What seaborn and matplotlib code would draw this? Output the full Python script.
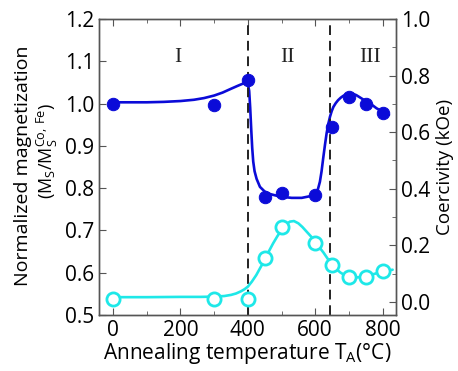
import pandas as pd
import numpy as np
import matplotlib
matplotlib.use("Agg")
import matplotlib.pyplot as plt
import seaborn as sns
from matplotlib.ticker import MultipleLocator

# measured points
temp_pts = [0, 300, 400, 450, 500, 600, 650, 700, 750, 800]
ms_pts = [1.000, 0.996, 1.056, 0.780, 0.788, 0.784, 0.945, 1.016, 0.999, 0.978]
hc_pts = [0.010, 0.010, 0.010, 0.156, 0.264, 0.209, 0.132, 0.088, 0.088, 0.108]

# guide-to-the-eye curves
ms_curve_t = [0, 50, 100, 150, 200, 240, 270, 300, 325, 350, 370, 385, 395, 400, 404, 407,
              410, 413, 416, 420, 426, 436, 450, 466, 496, 530, 560, 585, 600, 608, 614,
              619, 624, 629, 634, 639, 644, 649, 654, 661, 668, 676, 683, 693, 703, 712,
              722, 732, 742, 752, 762, 772, 782, 791, 800, 810, 819]
ms_curve_v = [1.003, 1.003, 1.003, 1.004, 1.006, 1.009, 1.013, 1.019, 1.026, 1.035, 1.042,
              1.047, 1.050, 1.047, 1.030, 0.990, 0.940, 0.895, 0.863, 0.840, 0.822, 0.803,
              0.792, 0.786, 0.780, 0.777, 0.777, 0.781, 0.788, 0.797, 0.815, 0.840, 0.872,
              0.902, 0.930, 0.952, 0.969, 0.982, 0.992, 1.001, 1.008, 1.014, 1.018, 1.022,
              1.024, 1.023, 1.020, 1.015, 1.010, 1.005, 1.000, 0.995, 0.989, 0.985, 0.981,
              0.977, 0.973]
hc_curve_t = [0, 100, 200, 260, 300, 330, 350, 365, 380, 390, 400, 412, 425, 437, 450, 462,
              475, 488, 500, 512, 525, 537, 550, 562, 575, 588, 600, 612, 625, 637, 650,
              662, 675, 687, 700, 712, 725, 737, 750, 762, 775, 787, 800, 815, 830]
hc_curve_v = [0.017, 0.017, 0.018, 0.018, 0.019, 0.021, 0.025, 0.030, 0.038, 0.045, 0.054,
              0.072, 0.095, 0.121, 0.148, 0.178, 0.207, 0.233, 0.254, 0.273, 0.284, 0.286,
              0.278, 0.265, 0.248, 0.231, 0.213, 0.194, 0.174, 0.153, 0.134, 0.117, 0.104,
              0.095, 0.090, 0.088, 0.087, 0.088, 0.090, 0.094, 0.099, 0.103, 0.107, 0.111,
              0.114]

boundaries = [400, 645]
regions = ["I", "II", "III"]
region_x = [193, 517, 763]

blue = "#0b0bd8"
cyan = "#1ee8e8"


def main():
    sns.set_style("ticks")
    plt.rcParams["font.family"] = ["Open Sans", "DejaVu Sans"]
    plt.rcParams["mathtext.fontset"] = "custom"
    plt.rcParams["mathtext.rm"] = "Open Sans"
    plt.rcParams["mathtext.it"] = "Open Sans"
    plt.rcParams["text.color"] = "black"
    plt.rcParams["axes.labelcolor"] = "black"

    pts = pd.DataFrame({"T": temp_pts, "Ms": ms_pts, "Hc": hc_pts})
    ms_curve = pd.DataFrame({"T": ms_curve_t, "Ms": ms_curve_v})
    hc_curve = pd.DataFrame({"T": hc_curve_t, "Hc": hc_curve_v})

    fig = plt.figure(figsize=(4.58, 3.71), dpi=100)
    ax = fig.add_axes([99 / 458, 1 - 315 / 371, 297 / 458, 296 / 371])
    ax2 = ax.twinx()

    sns.lineplot(data=ms_curve, x="T", y="Ms", ax=ax, color=blue, lw=1.9, sort=False)
    sns.scatterplot(data=pts, x="T", y="Ms", ax=ax, color=blue, s=80, edgecolor=blue,
                    zorder=3)
    sns.lineplot(data=hc_curve, x="T", y="Hc", ax=ax2, color=cyan, lw=1.9, sort=False)
    sns.scatterplot(data=pts, x="T", y="Hc", ax=ax2, facecolor="white", edgecolor=cyan,
                    s=90, linewidth=2, zorder=3)

    for b in boundaries:
        ax.axvline(b, color="#222222", ls=(0, (5, 3)), lw=1.4)
    for lab, xr in zip(regions, region_x):
        ax.text(xr, 1.108, lab, ha="center", va="center", fontsize=15.5,
                family="Liberation Serif", color="#222222")

    ax.set_xlim(-42, 840)
    ax.set_ylim(0.5, 1.2)
    ax2.set_ylim(-0.046, 1.0)
    ax.xaxis.set_major_locator(MultipleLocator(200))
    ax.xaxis.set_minor_locator(MultipleLocator(100))
    ax.yaxis.set_major_locator(MultipleLocator(0.1))
    ax2.yaxis.set_major_locator(MultipleLocator(0.2))
    ax2.yaxis.set_minor_locator(MultipleLocator(0.1))
    ax.yaxis.set_major_formatter(plt.FormatStrFormatter("%.1f"))
    ax2.yaxis.set_major_formatter(plt.FormatStrFormatter("%.1f"))

    ax.tick_params(axis="both", which="both", direction="in", top=True, right=False,
                   labelsize=15, color="#555555", labelcolor="black")
    ax.tick_params(which="major", length=5)
    ax.tick_params(which="minor", length=3)
    ax2.tick_params(axis="y", which="both", direction="in", labelsize=15, color="#555555",
                    labelcolor="black")
    ax2.tick_params(which="major", length=5)
    ax2.tick_params(which="minor", length=3)
    for a in (ax, ax2):
        for s in a.spines.values():
            s.set_color("#555555")
            s.set_linewidth(1.0)

    ax.set_xlabel(r"Annealing temperature T$_\mathrm{A}$(°C)", fontsize=15, labelpad=0,
                  color="black")
    ax.set_ylabel("")
    ax2.set_ylabel("Coercivity (kOe)", fontsize=13.5, labelpad=4, color="black")
    fig.text(23 / 458, 1 - 166 / 371, "Normalized magnetization", rotation=90,
             ha="center", va="center", fontsize=14, color="black")
    fig.text(47 / 458, 1 - 151 / 371, r"(M$_\mathrm{S}$/M$_\mathrm{S}^\mathrm{Co,\,Fe}$)",
             rotation=90, ha="center", va="center", fontsize=13, color="black")

    fig.savefig("out.png", dpi=100)


if __name__ == "__main__":
    main()
